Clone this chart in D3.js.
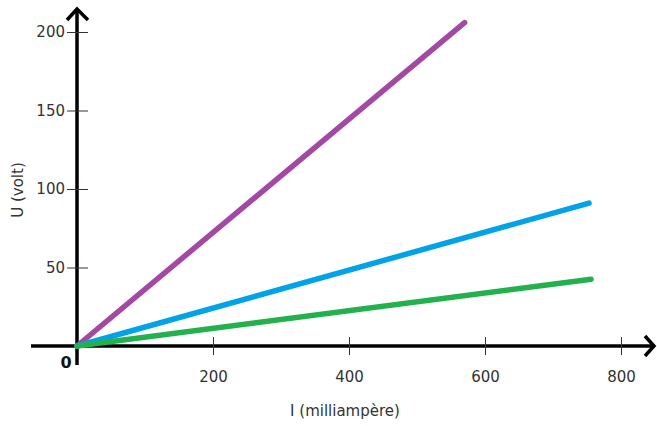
<!DOCTYPE html>
<html>
<head>
<meta charset="utf-8">
<script src="https://cdn.jsdelivr.net/npm/d3@7"></script>
<style>
  body { margin: 0; background: #fff; }
  text { font-family: "DejaVu Sans", sans-serif; fill: #333; }
</style>
</head>
<body>
<div id="chart"></div>
<script>
// data
var seriesNames = ["purple", "blue", "green"];
var seriesColors = ["#a349a4", "#00a2e8", "#22b14c"];
var startI = [0, 0, 0];
var startU = [0, 0, 0];
var endI = [570, 753, 756];
var endU = [206, 91, 42.5];
var xTicks = [200, 400, 600, 800];
var yTicks = [50, 100, 150, 200];

var svgWidth = 657, svgHeight = 426;

var svg = d3.select("#chart").append("svg")
    .attr("width", svgWidth)
    .attr("height", svgHeight);

// scales: 0 sits where the axes cross
var x = d3.scaleLinear().domain([0, 800]).range([77, 621]);
var y = d3.scaleLinear().domain([0, 200]).range([346, 32]);

// axis lines
svg.append("line")
    .attr("x1", 31).attr("x2", 654)
    .attr("y1", y(0)).attr("y2", y(0))
    .attr("stroke", "#000").attr("stroke-width", 3.5);
svg.append("line")
    .attr("x1", x(0)).attr("x2", x(0))
    .attr("y1", 365).attr("y2", 9)
    .attr("stroke", "#000").attr("stroke-width", 3.5);

// arrow heads
svg.append("path")
    .attr("d", "M645,336 L654," + y(0) + " L645,356")
    .attr("fill", "none").attr("stroke", "#000").attr("stroke-width", 3.5);
svg.append("path")
    .attr("d", "M67,20 L" + x(0) + ",9 L88,20")
    .attr("fill", "none").attr("stroke", "#000").attr("stroke-width", 3.5);

// ticks
var xAxis = d3.axisBottom(x).tickValues(xTicks).tickSize(18).tickPadding(16);
var gx = svg.append("g")
    .attr("transform", "translate(0," + (y(0) - 9) + ")")
    .call(xAxis);
gx.select(".domain").remove();
gx.selectAll(".tick line").attr("stroke", "#333").attr("stroke-width", 1);
gx.selectAll(".tick text").attr("font-size", 15).attr("fill", "#333")
    .attr("font-family", "DejaVu Sans, sans-serif");

var yAxis = d3.axisLeft(y).tickValues(yTicks).tickSize(21).tickPadding(2);
var gy = svg.append("g")
    .attr("transform", "translate(" + (x(0) + 11) + ",0)")
    .call(yAxis);
gy.select(".domain").remove();
gy.selectAll(".tick line").attr("stroke", "#333").attr("stroke-width", 1);
gy.selectAll(".tick text").attr("font-size", 15).attr("fill", "#333")
    .attr("font-family", "DejaVu Sans, sans-serif");

// zero label
svg.append("text")
    .attr("x", 66).attr("y", 368)
    .attr("text-anchor", "middle")
    .attr("font-size", 16).attr("font-weight", "bold")
    .style("fill", "#111")
    .text("0");

// lines
var lines = seriesNames.map(function(n, i) {
    return { name: n, color: seriesColors[i],
             pts: [[startI[i], startU[i]], [endI[i], endU[i]]] };
});
var lineGen = d3.line().x(function(d) { return x(d[0]); }).y(function(d) { return y(d[1]); });
svg.selectAll(".series")
    .data(lines)
    .enter().append("path")
    .attr("class", "series")
    .attr("d", function(d) { return lineGen(d.pts); })
    .attr("fill", "none")
    .attr("stroke", function(d) { return d.color; })
    .attr("stroke-width", 5.5)
    .attr("stroke-linecap", "round");

// axis titles
svg.append("text")
    .attr("x", 345).attr("y", 416)
    .attr("text-anchor", "middle")
    .attr("font-size", 15)
    .text("I (milliampère)");
svg.append("text")
    .attr("transform", "translate(23,190) rotate(-90)")
    .attr("text-anchor", "middle")
    .attr("font-size", 15)
    .text("U (volt)");
</script>
</body>
</html>
